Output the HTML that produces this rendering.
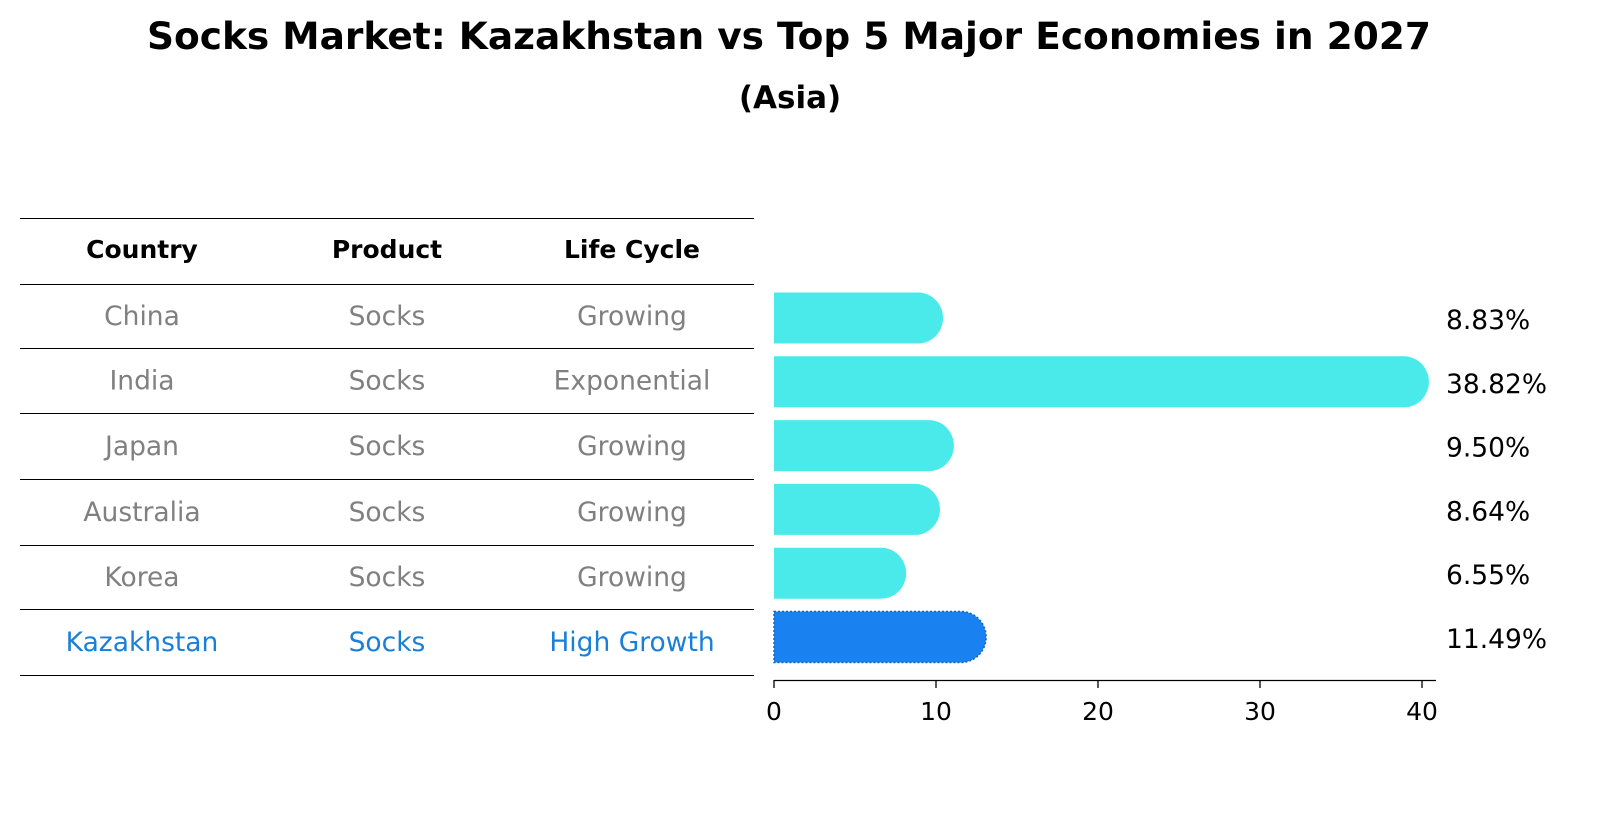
<!DOCTYPE html>
<html><head><meta charset="utf-8"><style>
body{margin:0;background:#fff;font-family:"Liberation Sans","DejaVu Sans",sans-serif;}
svg text{font-family:"DejaVu Sans","Liberation Sans",sans-serif;}
</style></head><body>
<svg width="1604" height="823" xmlns="http://www.w3.org/2000/svg">
<text x="789" y="49" text-anchor="middle" font-size="37.5" font-weight="bold">Socks Market: Kazakhstan vs Top 5 Major Economies in 2027</text>
<text x="790" y="108" text-anchor="middle" font-size="31" font-weight="bold">(Asia)</text>
<g id="table"></g>
<g id="bars"></g>
</svg>
<script>
const countries=["China","India","Japan","Australia","Korea","Kazakhstan"];
const products=["Socks","Socks","Socks","Socks","Socks","Socks"];
const lifeCycles=["Growing","Exponential","Growing","Growing","Growing","High Growth"];
const values=[8.83,38.82,9.50,8.64,6.55,11.49];
const valueLabels=["8.83%","38.82%","9.50%","8.64%","6.55%","11.49%"];
const xTicks=[0,10,20,30,40];
const NS="http://www.w3.org/2000/svg";
function mk(t,a,p){const e=document.createElementNS(NS,t);for(const k in a)e.setAttribute(k,a[k]);p.appendChild(e);return e;}
const x=v=>774+v*16.2;
const rowY=i=>318+i*63.8;
const tbl=document.getElementById('table');
const lineYs=[218,284,348,413,479,545,609,675];
lineYs.forEach((ly,i)=>{const l=mk('line',{x1:20,x2:754,y1:ly+0.5,y2:ly+0.5,stroke:'#000','stroke-width':1},tbl);

});
const colX=[142,387,632];
["Country","Product","Life Cycle"].forEach((h,j)=>{const t=mk('text',{x:colX[j],y:258,'text-anchor':'middle','font-size':25,'font-weight':'bold'},tbl);t.textContent=h;

});
countries.forEach((c,i)=>{
 const col=i===countries.length-1?'#1a7fd6':'#808080';
 [c,products[i],lifeCycles[i]].forEach((s,j)=>{
  const t=mk('text',{x:colX[j],y:(lineYs[i+1]+lineYs[i+2])/2+9,'text-anchor':'middle','font-size':26.5,fill:col},tbl);t.textContent=s;
  
  
 });
});
const bars=document.getElementById('bars');
const h=51,r=25;
values.forEach((v,i)=>{
 const y0=rowY(i)-h/2, x0=x(0), x1=x(v)+r+1, xe=x1-r;
 const d=`M${x0},${y0} L${xe},${y0} A${r},${h/2} 0 0 1 ${xe},${y0+h} L${x0},${y0+h} Z`;
 const last=i===values.length-1;
 const p=mk('path',{d:d,fill:last?'#1a82f0':'#4aeaea',stroke:last?'#1565c0':'none','stroke-width':last?1.5:0,'stroke-dasharray':last?'2,2':''},bars);
 
 
 const t=mk('text',{x:1446,y:rowY(i)+11,'font-size':26.5},bars);t.textContent=valueLabels[i];
 
 
});
const ax=mk('line',{x1:774,x2:1436,y1:680.5,y2:680.5,stroke:'#000','stroke-width':1.3},bars);


xTicks.forEach(v=>{
 const tk=mk('line',{x1:x(v),x2:x(v),y1:680,y2:688,stroke:'#000','stroke-width':1.3},bars);
 
 
 const t=mk('text',{x:x(v),y:720,'text-anchor':'middle','font-size':25},bars);t.textContent=v;
 
 
});
</script>
</body></html>
